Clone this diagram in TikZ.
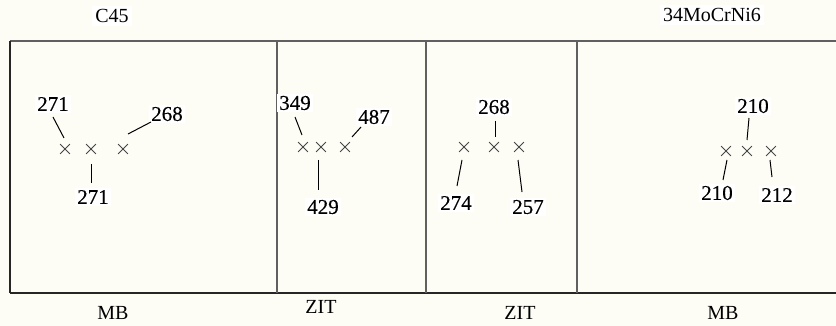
\documentclass[tikz,border=0pt]{standalone}
\usepackage{fontspec}
\setmainfont{Liberation Serif}
\newfontfamily\numfont[FakeBold=0.4]{Liberation Serif}
\usetikzlibrary{shapes.misc}
\definecolor{bgcream}{RGB}{253,253,246}
\definecolor{framegray}{RGB}{96,96,96}
\definecolor{crossgray}{RGB}{70,70,70}
\begin{document}
\begin{tikzpicture}[x=1pt,y=-1pt,
  lbl/.style={fill=white,inner sep=2pt,font=\numfont\fontsize{21}{23}\selectfont},
  toplbl/.style={fill=white,inner sep=3pt,font=\fontsize{20}{22}\selectfont},
  botlbl/.style={inner sep=1pt,font=\fontsize{20}{22}\selectfont},
  xmark/.style={cross out,draw=crossgray,line width=0.8pt,minimum size=9pt,inner sep=0pt},
  conn/.style={line width=1pt,black},
  frameline/.style={line width=2pt,framegray},
]
\fill[bgcream] (0,0) rectangle (836,326);
\useasboundingbox (0,0) rectangle (836,326);
% frame
\draw[frameline] (10,41) -- (836,41);
\draw[line width=2pt,black!85] (10,41) -- (10,293);
\draw[line width=2pt,black!85] (10,293) -- (836,293);
\draw[frameline] (277,41) -- (277,293);
\draw[frameline] (426,41) -- (426,293);
\draw[frameline] (577,41) -- (577,293);
% captions
\node[toplbl] (c45) at (112,16) {C45};
\node[toplbl] (moc) at (712,15) {34MoCrNi6};
\node[botlbl] (b1) at (113,313) {MB};
\node[botlbl] (b2) at (321,307) {ZIT};
\node[botlbl] (b3) at (520,313) {ZIT};
\node[botlbl] (b4) at (723,313) {MB};
% panel 1
\node[xmark] (x11) at (65,149) {};
\node[xmark] (x12) at (91,149) {};
\node[xmark] (x13) at (123,149) {};
\node[lbl] (l11) at (53,104) {271};
\node[lbl] (l12) at (167,114) {268};
\node[lbl] (l13) at (93,197) {271};
\coordinate (a11) at (53,117); \coordinate (e11) at (64,138);
\coordinate (a12) at (151,122); \coordinate (e12) at (128,134);
\coordinate (a13) at (91,164); \coordinate (e13) at (91,183);
\draw[conn] (a11) -- (e11);
\draw[conn] (a12) -- (e12);
\draw[conn] (a13) -- (e13);
% panel 2
\node[xmark] (x21) at (303,147) {};
\node[xmark] (x22) at (321,147) {};
\node[xmark] (x23) at (345,147) {};
\node[lbl] (l21) at (295,103) {349};
\node[lbl] (l22) at (374,117) {487};
\node[lbl] (l23) at (323,207) {429};
\coordinate (a21) at (295,117); \coordinate (e21) at (302,135);
\coordinate (a22) at (361,127); \coordinate (e22) at (352,137);
\coordinate (a23) at (318,160); \coordinate (e23) at (318,190);
\draw[conn] (a21) -- (e21);
\draw[conn] (a22) -- (e22);
\draw[conn] (a23) -- (e23);
% panel 3
\node[xmark] (x31) at (464,147) {};
\node[xmark] (x32) at (494,147) {};
\node[xmark] (x33) at (519,147) {};
\node[lbl] (l31) at (494,107) {268};
\node[lbl] (l32) at (456,203) {274};
\node[lbl] (l33) at (528,207) {257};
\coordinate (a31) at (495,121); \coordinate (e31) at (495,137);
\coordinate (a32) at (462,160); \coordinate (e32) at (457,186);
\coordinate (a33) at (518,160); \coordinate (e33) at (522,192);
\draw[conn] (a31) -- (e31);
\draw[conn] (a32) -- (e32);
\draw[conn] (a33) -- (e33);
% panel 4
\node[xmark] (x41) at (726,151) {};
\node[xmark] (x42) at (747,151) {};
\node[xmark] (x43) at (771,151) {};
\node[lbl] (l41) at (753,106) {210};
\node[lbl] (l42) at (717,193) {210};
\node[lbl] (l43) at (777,195) {212};
\coordinate (a41) at (749,118); \coordinate (e41) at (747,140);
\coordinate (a42) at (727,160); \coordinate (e42) at (723,180);
\coordinate (a43) at (770,160); \coordinate (e43) at (772,177);
\draw[conn] (a41) -- (e41);
\draw[conn] (a42) -- (e42);
\draw[conn] (a43) -- (e43);
\end{tikzpicture}
\end{document}
